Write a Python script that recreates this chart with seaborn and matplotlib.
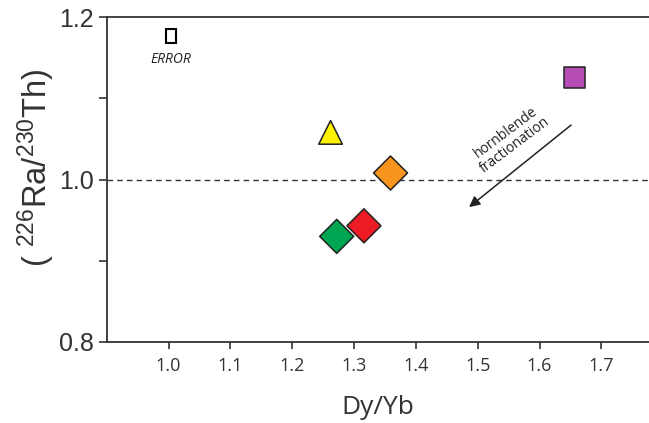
import pandas as pd
import matplotlib.pyplot as plt
import seaborn as sns
from matplotlib.patches import Rectangle

# data
samples = ['A', 'B', 'C', 'D', 'E']
dy_yb = [1.262, 1.359, 1.316, 1.272, 1.657]
ra_th = [1.058, 1.008, 0.943, 0.930, 1.125]
colors = ['#FFF200', '#F7941D', '#ED1C24', '#00A651', '#B54DB5']
shapes = ['^', 'D', 'D', 'D', 's']
sizes = [290, 300, 300, 300, 230]

# error box (centre and half widths)
err_x, err_y = 1.004, 1.177
err_dx, err_dy = 0.008, 0.0085

# hornblende fractionation arrow
arrow_start = (1.651, 1.067)
arrow_end = (1.486, 0.966)

xticks = [1.0, 1.1, 1.2, 1.3, 1.4, 1.5, 1.6, 1.7]
yticks = [0.8, 0.9, 1.0, 1.1, 1.2]
ylabels = ['0.8', '', '1.0', '', '1.2']

df = pd.DataFrame({'sample': samples, 'dy_yb': dy_yb, 'ra_th': ra_th})

sns.set_style('ticks')
plt.rcParams['font.family'] = ['Liberation Sans', 'DejaVu Sans']
plt.rcParams['mathtext.fontset'] = 'custom'
plt.rcParams['mathtext.rm'] = 'Liberation Sans'
plt.rcParams['mathtext.default'] = 'regular'

fig = plt.figure(figsize=(6.49, 4.23), dpi=100)
ax = fig.add_axes([0.1644, 0.1915, 0.8356, 0.7683])

ink = '#333333'
ax.axhline(1.0, color=ink, lw=1.0, ls=(0, (4, 3)), zorder=1)

sns.scatterplot(data=df, x='dy_yb', y='ra_th', hue='sample', style='sample', size='sample',
                palette=dict(zip(samples, colors)), markers=dict(zip(samples, shapes)),
                sizes=dict(zip(samples, sizes)), edgecolor='#222222', linewidth=1.1,
                legend=False, ax=ax, zorder=3)

ax.add_patch(Rectangle((err_x - err_dx, err_y - err_dy), 2 * err_dx, 2 * err_dy,
                       facecolor='white', edgecolor='black', lw=1.5, zorder=3))
ax.text(err_x, 1.148, 'ERROR', ha='center', va='center', fontsize=10,
        style='italic', family='Open Sans', color='#222222')

ax.annotate('', xy=arrow_end, xytext=arrow_start,
            arrowprops=dict(arrowstyle='-|>', color='#222222', lw=1.1,
                            mutation_scale=16, shrinkA=0, shrinkB=0))
ax.text(1.553, 1.05, 'hornblende\nfractionation', rotation=37, ha='center', va='center',
        fontsize=10, family='Open Sans', color='#222222', linespacing=1.0,
        rotation_mode='anchor')

ax.set_xlim(0.9, 1.777)
ax.set_ylim(0.8, 1.2)
ax.set_xticks(xticks)
ax.set_xticklabels([f'{v:.1f}' for v in xticks], family='Open Sans', fontsize=13, color=ink)
ax.set_yticks(yticks)
ax.set_yticklabels(ylabels, fontsize=18, color=ink)
ax.tick_params(axis='x', direction='out', length=5, width=1.2, color=ink, pad=6)
ax.tick_params(axis='y', direction='out', length=6, width=1.2, color=ink, pad=3)

for side in ['left', 'bottom', 'top']:
    ax.spines[side].set_color(ink)
    ax.spines[side].set_linewidth(1.3)
ax.spines['right'].set_visible(False)

ax.set_xlabel('Dy/Yb', family='Open Sans', fontsize=19, color=ink, labelpad=14)
ax.set_ylabel(r'( $^{226}$Ra/$^{230}$Th)', fontsize=23.5, color=ink)
ax.yaxis.set_label_coords(-0.092, 0.535)

fig.savefig('out.png', dpi=100)
